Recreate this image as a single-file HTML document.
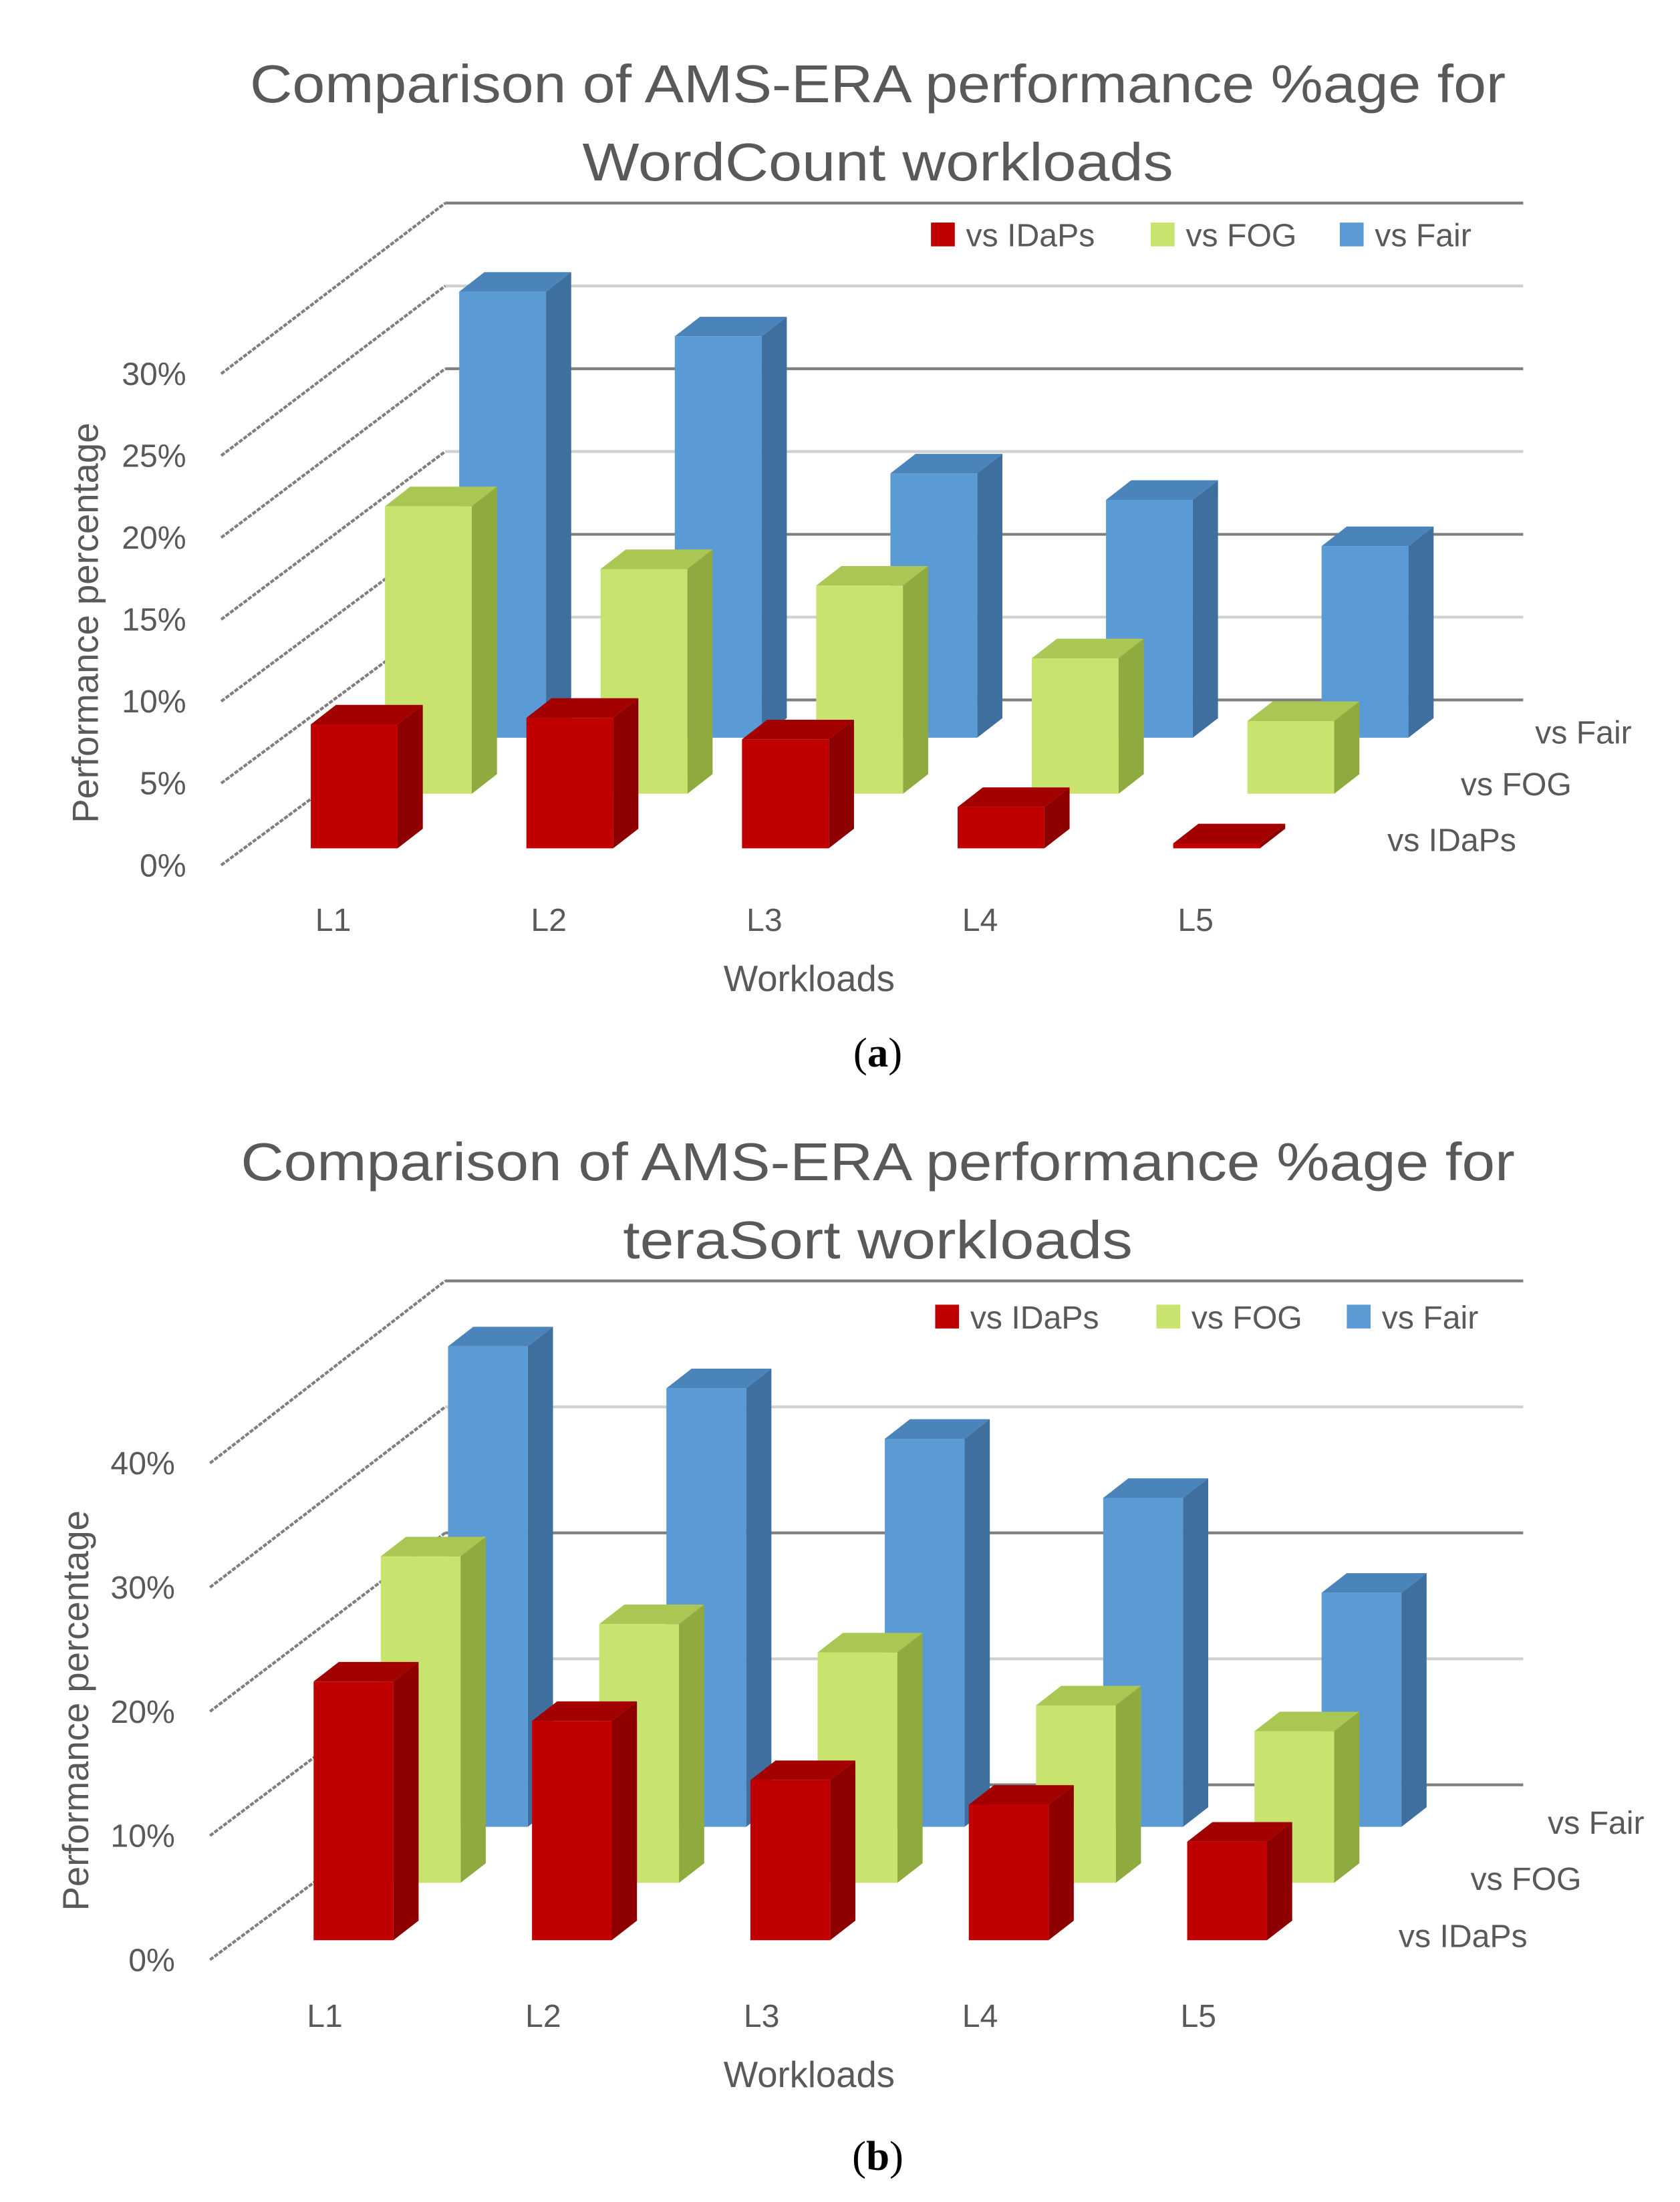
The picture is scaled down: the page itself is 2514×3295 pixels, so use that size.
<!DOCTYPE html>
<html><head><meta charset="utf-8"><style>
html,body{margin:0;padding:0;background:#fff}
svg{display:block}
text{font-family:"Liberation Sans",sans-serif;fill:#595959}
</style></head><body>
<svg id="root" width="2514" height="3295" viewBox="0 0 1200 1573" preserveAspectRatio="none" xmlns="http://www.w3.org/2000/svg"></svg>
<script>
const categories = ["L1","L2","L3","L4","L5"];
const seriesNames = ["vs IDaPs","vs FOG","vs Fair"];
const wcIdaps = [7.5, 7.9, 6.6, 2.5, 0.3];
const wcFog = [17.4, 13.6, 12.6, 8.2, 4.4];
const wcFair = [27.0, 24.3, 16.0, 14.4, 11.6];
const wcTicks = ["0%","5%","10%","15%","20%","25%","30%"];
const wcTickVals = [0,5,10,15,20,25,30];
const tsIdaps = [21.0, 17.8, 13.0, 11.0, 8.0];
const tsFog = [26.5, 21.0, 18.7, 14.4, 12.3];
const tsFair = [39.0, 35.6, 31.5, 26.7, 19.0];
const tsTicks = ["0%","10%","20%","30%","40%"];
const tsTickVals = [0,10,20,30,40];

const NS="http://www.w3.org/2000/svg";
const root=document.getElementById('root');
function mk(tag,attrs,parent){const e=document.createElementNS(NS,tag);for(const k in attrs)e.setAttribute(k,attrs[k]);(parent||root).appendChild(e);return e;}
function txt(s,attrs,parent){const e=mk('text',attrs,parent);e.textContent=s;return e;}

const colors=[
 {front:"#c00000",side:"#8e0000",top:"#a30000"},
 {front:"#c8e46e",side:"#8fab3f",top:"#a9c752"},
 {front:"#5b9bd5",side:"#3e6f9e",top:"#4a84ba"}];

function chart(cfg){
 const g=mk('g',{});
 
 
 cfg.title.forEach((t,i)=>{const e=txt(t,{x:627,y:cfg.titleY+i*56,'font-size':38,'text-anchor':'middle',textLength:cfg.titleLen[i],lengthAdjust:'spacingAndGlyphs'},g);
  });
 const backY=v=>cfg.back0 - v*cfg.backScale;
 const frontY=v=>cfg.front0 - v*cfg.frontScale;
 const fr=mk('line',{x1:318,y1:cfg.frameY,x2:1088,y2:cfg.frameY,stroke:'#a6a6a6','stroke-width':2},g);
 
 let frameCovered=false;
 cfg.tickVals.forEach((v,i)=>{
  const by=backY(v), fy=frontY(v);
  if(Math.abs(by-cfg.frameY)<4) frameCovered=true;
  const gl=mk('line',{x1:318,y1:by,x2:1088,y2:by,stroke:i%2?'#d0d0d0':'#7f7f7f','stroke-width':2},g);
  
  const dg=mk('line',{x1:cfg.axisX,y1:fy,x2:318,y2:by,stroke:'#7f7f7f','stroke-width':2,'stroke-dasharray':'3 1'},g);
  
  const tl=txt(cfg.ticks[i],{x:cfg.axisX-25,y:fy+8,'font-size':23,'text-anchor':'end'},g);
  
 });
 if(!frameCovered){
  const dt=mk('line',{x1:cfg.axisX,y1:cfg.front0-(cfg.back0-cfg.frameY)*cfg.frontScale/cfg.backScale,x2:318,y2:cfg.frameY,stroke:'#7f7f7f','stroke-width':2,'stroke-dasharray':'3 1'},g);
  
 }
 const data=cfg.data;
 for(let r=2;r>=0;r--){
  for(let c=0;c<categories.length;c++){
   const v=data[r][c];
   const x=cfg.x0+c*cfg.step+r*cfg.rowDx;
   const base=cfg.bases[r];
   const top=base - v*cfg.scale;
   const w=cfg.bw, dx=cfg.dx, dy=cfg.dy;
   const bg=mk('g',{},g);
   
   
   mk('polygon',{points:`${x+w},${top} ${x+w+dx},${top-dy} ${x+w+dx},${base-dy} ${x+w},${base}`,fill:colors[r].side},bg);
   mk('polygon',{points:`${x},${top} ${x+dx},${top-dy} ${x+w+dx},${top-dy} ${x+w},${top}`,fill:colors[r].top},bg);
   mk('rect',{x:x,y:top,width:w,height:Math.max(0,base-top),fill:colors[r].front},bg);
  }
 }
 categories.forEach((cname,c)=>{const e=txt(cname,{x:cfg.labX+c*cfg.step,y:cfg.labY,'font-size':23,'text-anchor':'middle'},g);
  });
 cfg.rowLab.forEach((p,r)=>{const e=txt(seriesNames[r],{x:p[0],y:p[1],'font-size':23,'text-anchor':'middle'},g);
  });
 const xt=txt('Workloads',{x:578,y:cfg.labY+43,'font-size':26,'text-anchor':'middle'},g);
 
 const yt=txt('Performance percentage',{x:0,y:0,'font-size':26,'text-anchor':'middle',transform:`translate(${cfg.ytX},${cfg.ytY}) rotate(-90)`},g);
 
 cfg.legX.forEach((lx,r)=>{const lg=mk('g',{},g);
  
  mk('rect',{x:lx,y:cfg.legY-9,width:17,height:17,fill:colors[r].front},lg);
  txt(seriesNames[r],{x:lx+25,y:cfg.legY+8,'font-size':23},lg);});
 const cap=txt('',{x:627,y:cfg.capY,'font-size':30,'text-anchor':'middle',style:'font-family:"Liberation Serif",serif;fill:#000'},g);
 cap.innerHTML='(<tspan font-weight="bold">'+cfg.cap+'</tspan>)';
 
}

chart({name:'wordcount-chart',title:['Comparison of AMS-ERA performance %age for','WordCount workloads'],titleLen:[897,422],titleY:73,
 back0:500,backScale:11.83,front0:618,frontScale:11.7,frameY:145,tickVals:wcTickVals,ticks:wcTicks,axisX:158,
 data:[wcIdaps,wcFog,wcFair],x0:222,step:154,rowDx:53,bases:[606,567,527],scale:11.8,bw:62,dx:18,dy:14,
 labX:238,labY:665,rowLab:[[1037,608],[1083,568],[1131,531]],ytX:70,ytY:445,legX:[665,822,957],legY:168,cap:'a',capY:762});

chart({name:'terasort-chart',title:['Comparison of AMS-ERA performance %age for','teraSort workloads'],titleLen:[910,364],titleY:843,
 back0:1275,backScale:9.0,front0:1400,frontScale:8.87,frameY:915,tickVals:tsTickVals,ticks:tsTicks,axisX:150,
 data:[tsIdaps,tsFog,tsFair],x0:224,step:156,rowDx:48,bases:[1386,1345,1305],scale:8.8,bw:57,dx:18,dy:14,
 labX:232,labY:1448,rowLab:[[1045,1391],[1090,1350],[1140,1310]],ytX:63,ytY:1222,legX:[668,826,962],legY:941,cap:'b',capY:1550});
</script>
</body></html>
